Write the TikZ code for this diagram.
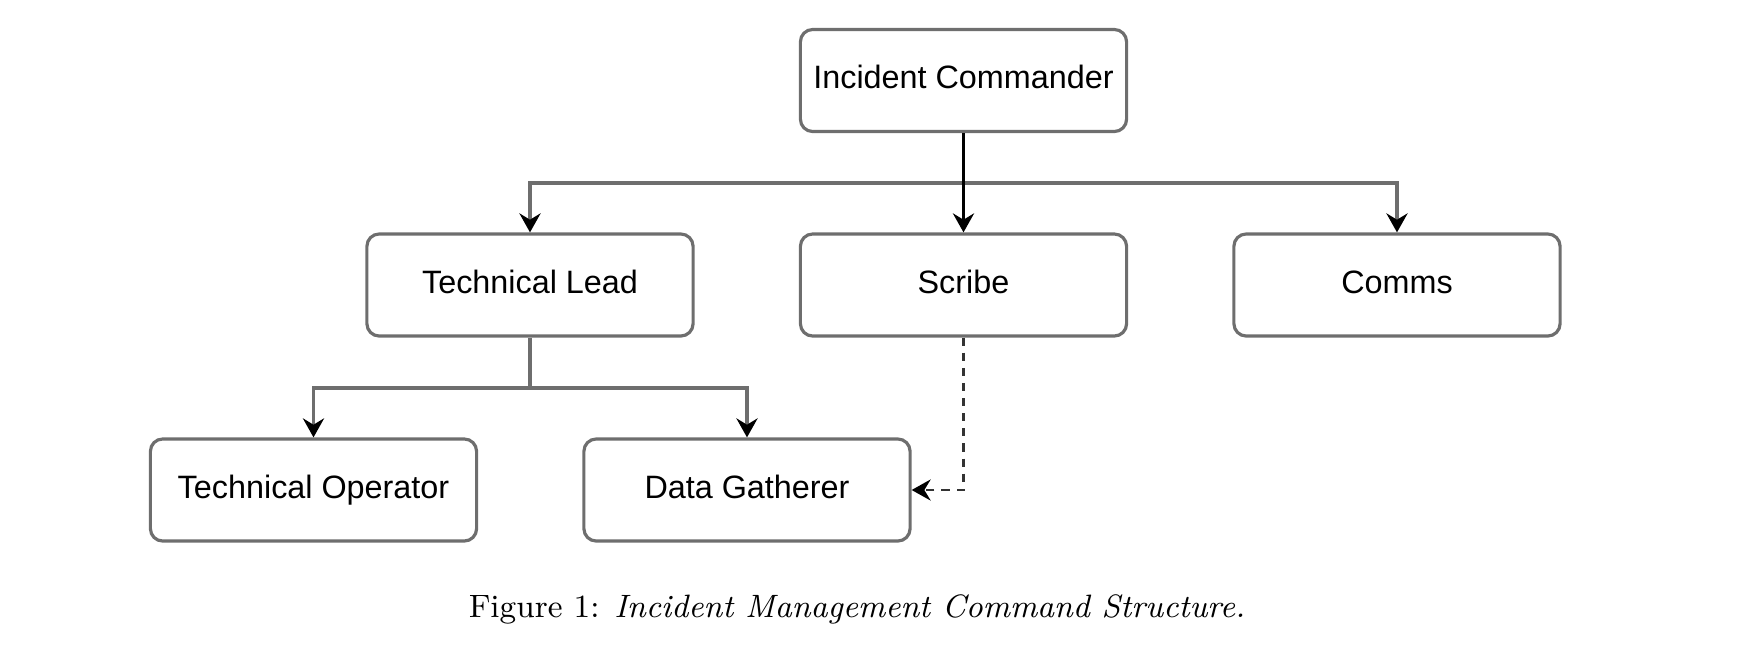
\documentclass[tikz,border=0pt]{standalone}
\usepackage{fontspec}
\setmainfont{Latin Modern Roman}
\newfontfamily\boxfont{Liberation Sans}
\usetikzlibrary{arrows.meta}
\definecolor{linegray}{HTML}{6E6E6E}
\tikzset{role/.style={draw=linegray, line width=0.9pt, rounded corners=3.5pt, fill=white,
           minimum width=3.26cm, minimum height=1.02cm, inner sep=0pt, text height=6.6pt, text depth=2pt,
           font=\boxfont\fontsize{9.2}{11}\selectfont},
         link/.style={draw=linegray, line width=0.9pt, -{Stealth[length=5.4pt,width=6pt,inset=1.8pt,black]}}}
\begin{document}
\begin{tikzpicture}[x=0.01cm,y=-0.01cm]
   \useasboundingbox (0,0) rectangle (1750,654);
   \node[role] (ic)     at ( 963.5, 80.5) {Incident Commander};
   \node[role] (tl)     at ( 530.0,285.0) {Technical Lead};
   \node[role] (scribe) at ( 963.5,285.0) {Scribe};
   \node[role] (comms)  at (1397.0,285.0) {Comms};
   \node[role] (top)    at ( 313.5,490.0) {Technical Operator};
   \node[role] (dg)     at ( 747.0,490.0) {Data Gatherer};
   \coordinate (fork1) at (963.5,183);
   \coordinate (fork2) at (530.0,388);
   \draw[link]  (fork1) -| (tl.north);
   \draw[link]  (fork1) -| (comms.north);
   \draw[link,draw=black,line width=1.1pt] (ic.south) -- (scribe.north);
   \draw[link,-] (tl.south) -- (fork2);
   \draw[link]  (fork2) -| (top.north);
   \draw[link]  (fork2) -| (dg.north);
   \draw[link,draw=black!80,line width=0.7pt,dash pattern=on 2.3pt off 2pt] (scribe.south) |- (dg.east);
   \node[font=\fontsize{9.2}{11}\selectfont] (caption) at (857,609) {Figure 1: \textit{Incident Management Command Structure.}};
  \end{tikzpicture}
\end{document}
